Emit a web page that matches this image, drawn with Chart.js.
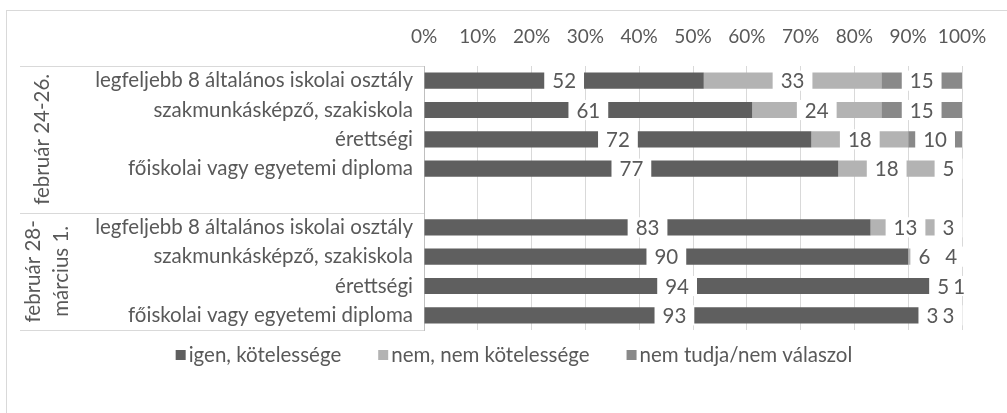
<!DOCTYPE html>
<html>
<head>
<meta charset="utf-8">
<script src="https://cdn.jsdelivr.net/npm/chart.js@4"></script>
<style>
html,body{margin:0;padding:0;background:#fff;}
#wrap{position:relative;width:1007px;height:413px;}
</style>
</head>
<body>
<div id="wrap"><canvas id="c" width="1007" height="413"></canvas></div>
<script>
const categories = [
  'legfeljebb 8 általános iskolai osztály',
  'szakmunkásképző, szakiskola',
  'érettségi',
  'főiskolai vagy egyetemi diploma',
  '',
  'legfeljebb 8 általános iskolai osztály',
  'szakmunkásképző, szakiskola',
  'érettségi',
  'főiskolai vagy egyetemi diploma'
];
const groupLabels = [['február 24-26.'], ['február 28-', 'március 1.']];
const seriesNames = ['igen, kötelessége', 'nem, nem kötelessége', 'nem tudja/nem válaszol'];
const igen     = [52, 61, 72, 77, null, 83, 90, 94, 93];
const nem      = [33, 24, 18, 18, null, 13, 6, 5, 3];
const nemTudja = [15, 15, 10, 5, null, 3, 4, 1, 3];
const xTickValues = [0, 10, 20, 30, 40, 50, 60, 70, 80, 90, 100];

const FONT = 'Lato, "Open Sans", sans-serif';
const FS = 20.5;
const FS_TICK = 19;
const TXT = '#595959';
const colors = ['#5f5f5f', '#b3b3b3', '#898989'];

const decorPlugin = {
  id: 'decor',
  beforeDraw(chart) {
    const ctx = chart.ctx;
    ctx.save();
    ctx.strokeStyle = '#d9d9d9';
    ctx.lineWidth = 1;
    ctx.strokeRect(6.5, 10.5, 1200, 600);
    ctx.restore();
  },
  afterDraw(chart) {
    const ctx = chart.ctx;
    const y = chart.scales.y;
    const ca = chart.chartArea;
    const half = (y.getPixelForValue(1) - y.getPixelForValue(0)) / 2;
    ctx.save();
    ctx.strokeStyle = '#d9d9d9';
    ctx.lineWidth = 1;
    const mid = y.getPixelForValue(4) + half;
    [ca.top, mid, ca.bottom].forEach(sy => {
      const yy = Math.round(sy) + 0.5;
      ctx.beginPath(); ctx.moveTo(20, yy); ctx.lineTo(ca.left, yy); ctx.stroke();
    });
    ctx.fillStyle = TXT;
    ctx.font = FS + 'px ' + FONT;
    ctx.textAlign = 'center';
    ctx.textBaseline = 'middle';
    const groupTops = [ca.top, mid];
    const groupBots = [mid, ca.bottom];
    const groupCx = [42, 47];
    groupLabels.forEach((lines, gi) => {
      const cy = (groupTops[gi] + groupBots[gi]) / 2;
      const lh = 28;
      const cx0 = groupCx[gi] - (lines.length - 1) * lh / 2;
      lines.forEach((t, li) => {
        ctx.save();
        ctx.translate(cx0 + li * lh, cy);
        ctx.rotate(-Math.PI / 2);
        ctx.fillText(t, 0, 0);
        ctx.restore();
      });
    });
    ctx.textAlign = 'left';
    const box = 10, gapT = 3, gapI = 37;
    const widths = seriesNames.map(s => ctx.measureText(s).width);
    const total = widths.reduce((a, w) => a + box + gapT + w, 0) + gapI * (seriesNames.length - 1);
    let x = 514 - total / 2;
    const ly = 354;
    seriesNames.forEach((s, i) => {
      ctx.fillStyle = colors[i];
      ctx.fillRect(x, ly - box / 2 + 1, box, box);
      ctx.fillStyle = TXT;
      ctx.fillText(s, x + box + gapT, ly + 1);
      x += box + gapT + widths[i] + gapI;
    });
    ctx.restore();
  }
};

const labelPlugin = {
  id: 'vlabels',
  afterDatasetsDraw(chart) {
    const ctx = chart.ctx;
    ctx.save();
    ctx.font = FS + 'px ' + FONT;
    const items = [];
    chart.data.datasets.forEach((ds, di) => {
      const meta = chart.getDatasetMeta(di);
      meta.data.forEach((el, i) => {
        const v = ds.data[i];
        if (v == null) return;
        const t = String(v);
        const w = ctx.measureText(t).width;
        items.push({ cx: (el.x + el.base) / 2, cy: el.y, t, w, h: el.height });
      });
    });
    const pad = 8;
    ctx.fillStyle = '#ffffff';
    items.forEach(it => {
      ctx.fillRect(it.cx - it.w / 2 - pad, it.cy - it.h / 2 - 2, it.w + pad * 2, it.h + 4);
    });
    ctx.fillStyle = TXT;
    ctx.textAlign = 'center';
    ctx.textBaseline = 'middle';
    items.forEach(it => ctx.fillText(it.t, it.cx, it.cy + 1));
    ctx.restore();
  }
};

new Chart(document.getElementById('c'), {
  type: 'bar',
  data: {
    labels: categories,
    datasets: [
      { label: seriesNames[0], data: igen, backgroundColor: colors[0] },
      { label: seriesNames[1], data: nem, backgroundColor: colors[1] },
      { label: seriesNames[2], data: nemTudja, backgroundColor: colors[2] }
    ]
  },
  options: {
    indexAxis: 'y',
    responsive: false,
    animation: false,
    devicePixelRatio: 1,
    barPercentage: 0.55,
    categoryPercentage: 1,
    layout: { padding: { left: 0, right: 45, top: 0, bottom: 83 } },
    plugins: { legend: { display: false }, tooltip: { enabled: false } },
    scales: {
      x: {
        position: 'top',
        stacked: true,
        min: 0, max: 100,
        afterBuildTicks(s) { s.ticks = xTickValues.map(v => ({ value: v })); },
        afterFit(s) { s.height = 66; },
        grid: { color: '#d9d9d9', drawTicks: false },
        border: { display: false },
        ticks: {
          padding: 18,
          autoSkip: false,
          color: TXT,
          font: { family: FONT, size: FS_TICK },
          maxRotation: 0,
          minRotation: 0,
          callback: v => v + '%'
        }
      },
      y: {
        stacked: true,
        afterFit(s) { s.width = 424; },
        grid: { display: false, drawTicks: false },
        border: { display: true, color: '#bfbfbf' },
        ticks: {
          padding: 11,
          color: TXT,
          font: { family: FONT, size: FS },
          autoSkip: false
        }
      }
    }
  },
  plugins: [decorPlugin, labelPlugin]
});
</script>
</body>
</html>
